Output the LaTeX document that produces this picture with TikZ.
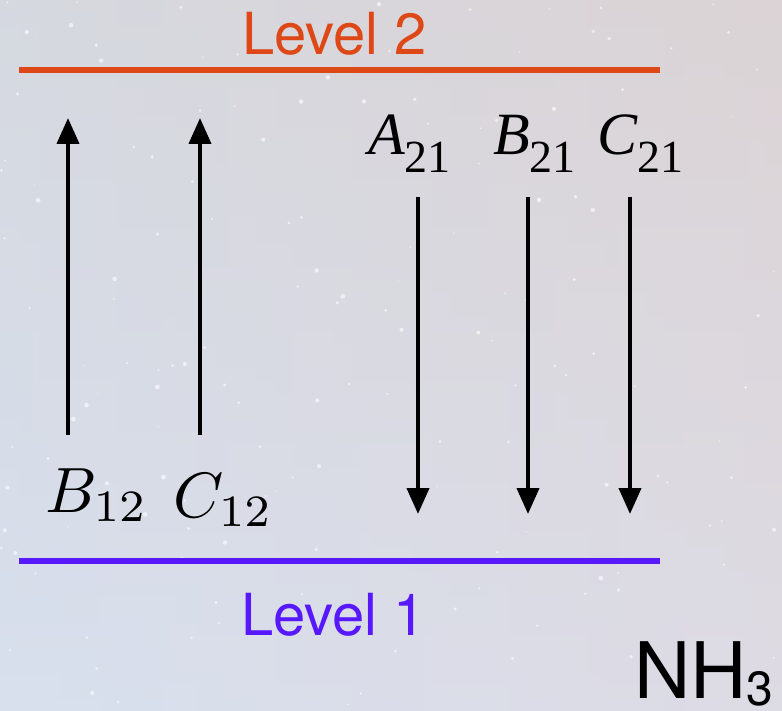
\documentclass[tikz,border=0pt]{standalone}
\usepackage{graphicx}
\usepackage[no-math]{fontspec}
\setmainfont{Liberation Serif}
\newfontfamily\helv{TeX Gyre Heros}
\usetikzlibrary{arrows.meta}
\definecolor{levelred}{RGB}{222,72,22}
\definecolor{levelblue}{RGB}{88,24,252}
\definecolor{bgblue}{RGB}{216,224,238}
\definecolor{bgpink}{RGB}{228,214,218}
\definecolor{bggrey}{RGB}{212,210,210}
\newcommand{\coefA}[2]{{\fontsize{60}{60}\selectfont\itshape #1}{\fontsize{46}{46}\selectfont\raisebox{-18pt}{#2}}}
\begin{document}
\begin{tikzpicture}[
        x=1pt, y=-1pt,
        level/.style={line width=6pt},
        leveltext/.style={font=\helv\fontsize{58}{58}\selectfont, inner sep=0pt, anchor=base west},
        coef/.style={inner sep=0pt, anchor=base west},
        trans/.style={line width=4pt, -{Triangle[width=22pt,length=26pt]}}
    ]
    
    % Fond
    \useasboundingbox (0,0) rectangle (782,711);
    \shade[left color=bgblue, right color=bgpink] (0,0) rectangle (782,711);
    \shade[top color=bggrey, bottom color=bgblue, opacity=0.5] (0,0) rectangle (782,711);
    \pgfmathsetseed{11}
    \foreach \i in {1,...,160} {
        \fill[white, opacity=0.6] (rnd*782, rnd*711) circle (0.6+rnd*1.8);
    }
    
    % Niveau 2
    \coordinate (l2a) at (19, 70);
    \coordinate (l2b) at (660, 70);
    \draw[level, levelred] (l2a) -- (l2b);
    \node[leveltext, text=levelred] (lev2) at (242, 55) {Level 2};
    
    % Niveau 1
    \coordinate (l1a) at (19, 561);
    \coordinate (l1b) at (660, 561);
    \draw[level, levelblue] (l1a) -- (l1b);
    \node[leveltext, text=levelblue] (lev1) at (241, 635) {Level 1};
    
    % Coefficients
    \node[coef] (a21) at (368, 155) {\coefA{A}{21}};
    \node[coef] (b21) at (493, 155) {\coefA{B}{21}};
    \node[coef] (c21) at (597, 155) {\coefA{C}{21}};
    \node[coef] (b12) at (45, 512) {\scalebox{6.4}{$B_{12}$}};
    \node[coef] (c12) at (173, 517) {\scalebox{6.4}{$C_{12}$}};
    
    % Molecule
    \node[coef] (nh3) at (634, 698) {\helv\fontsize{78}{78}\selectfont NH\raisebox{-7pt}{\fontsize{48}{48}\selectfont 3}};
    
    % Transitions
    \coordinate (b12s) at (68, 435);
    \coordinate (b12e) at (68, 118);
    \coordinate (c12s) at (200, 435);
    \coordinate (c12e) at (200, 118);
    \coordinate (a21s) at (418, 197);
    \coordinate (a21e) at (418, 514);
    \coordinate (b21s) at (528, 197);
    \coordinate (b21e) at (528, 514);
    \coordinate (c21s) at (630, 197);
    \coordinate (c21e) at (630, 514);
    \draw[trans] (b12s) -- (b12e);
    \draw[trans] (c12s) -- (c12e);
    \draw[trans] (a21s) -- (a21e);
    \draw[trans] (b21s) -- (b21e);
    \draw[trans] (c21s) -- (c21e);
    
    \end{tikzpicture}
\end{document}
